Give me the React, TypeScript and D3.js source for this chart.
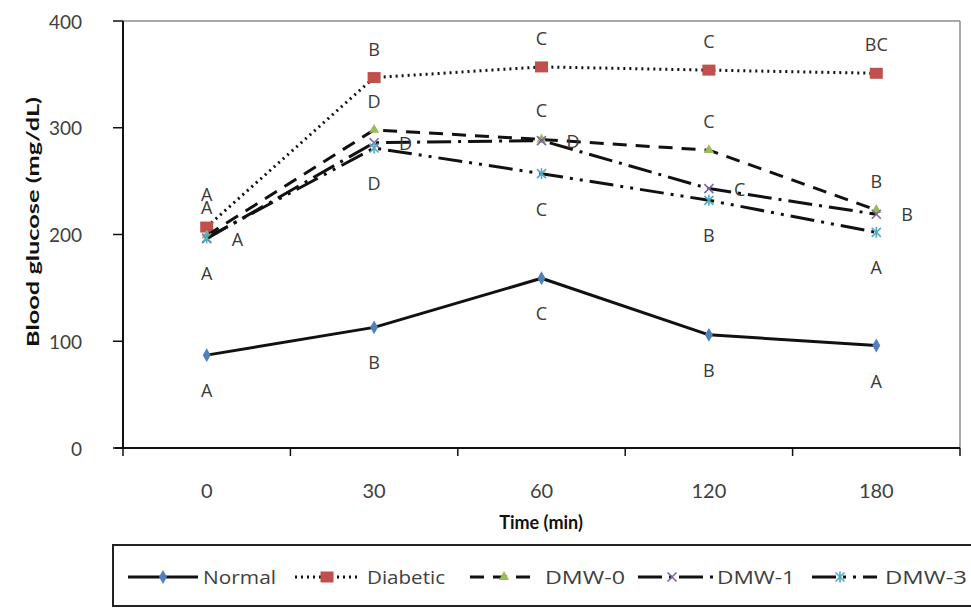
import React from "react";
import * as d3 from "d3";

// Sampling times (min)
const times = ["0", "30", "60", "120", "180"];

// Blood glucose (mg/dL) per group
const normal = [87, 113, 159, 106, 96];
const diabetic = [207, 347, 357, 354, 351];
const dmw0 = [199, 298, 289, 279, 223];
const dmw1 = [196, 286, 288, 243, 219];
const dmw3 = [197, 281, 257, 232, 202];

// Significance letters per group
const normalLetters = ["A", "B", "C", "B", "A"];
const diabeticLetters = ["A", "B", "C", "C", "BC"];
const dmw0Letters = ["A", "D", "C", "C", "B"];
const dmw1Letters = ["A", "D", "D", "C", "B"];
const dmw3Letters = ["A", "D", "C", "B", "A"];

const yTicks = [0, 100, 200, 300, 400];

type Marker = "diamond" | "square" | "triangle" | "cross" | "star";
type LabelPos = "above" | "below" | "right";

interface Series {
  name: string;
  values: number[];
  letters: string[];
  labelPos: LabelPos;
  dash: string;
  marker: Marker;
  color: string;
}

const series: Series[] = [
  { name: "Normal", values: normal, letters: normalLetters, labelPos: "below", dash: "none", marker: "diamond", color: "#4F81BD" },
  { name: "Diabetic", values: diabetic, letters: diabeticLetters, labelPos: "above", dash: "2 4", marker: "square", color: "#C0504D" },
  { name: "DMW-0", values: dmw0, letters: dmw0Letters, labelPos: "above", dash: "14 9", marker: "triangle", color: "#9BBB59" },
  { name: "DMW-1", values: dmw1, letters: dmw1Letters, labelPos: "right", dash: "24 7 3 7", marker: "cross", color: "#8064A2" },
  { name: "DMW-3", values: dmw3, letters: dmw3Letters, labelPos: "below", dash: "24 7 3 7 3 7", marker: "star", color: "#4BACC6" },
];

const W = 971;
const H = 608;
const left = 123;
const right = 960;
const top = 21;
const bottom = 448;

const x = d3.scaleBand<string>().domain(times).range([left, right]).padding(0);
const cx = (t: string) => (x(t) as number) + x.bandwidth() / 2;
const y = d3.scaleLinear().domain([0, 400]).range([bottom, top]);

const line = d3
  .line<[number, number]>()
  .x((d) => d[0])
  .y((d) => d[1]);

function MarkerShape({ kind, px, py, color }: { kind: Marker; px: number; py: number; color: string }) {
  if (kind === "diamond") {
    return <path d={d3.symbol().type(d3.symbolDiamond).size(55)() as string} transform={`translate(${px},${py})`} fill={color} />;
  }
  if (kind === "square") {
    return <rect x={px - 6.5} y={py - 5.5} width={13} height={11} fill={color} />;
  }
  if (kind === "triangle") {
    return <path d={d3.symbol().type(d3.symbolTriangle).size(45)() as string} transform={`translate(${px},${py})`} fill={color} />;
  }
  const r = 4.5;
  const xs = (
    <>
      <line x1={px - r} y1={py - r} x2={px + r} y2={py + r} stroke={color} strokeWidth={1.6} />
      <line x1={px - r} y1={py + r} x2={px + r} y2={py - r} stroke={color} strokeWidth={1.6} />
    </>
  );
  if (kind === "cross") return <g>{xs}</g>;
  return (
    <g>
      {xs}
      <line x1={px} y1={py - r - 1} x2={px} y2={py + r + 1} stroke={color} strokeWidth={1.6} />
    </g>
  );
}

const labelFont = "'Open Sans', 'DejaVu Sans', sans-serif";
const tickFont = "Lato, 'Liberation Sans', sans-serif";

// Legend entries: sample line start/end, marker x, text start, text width
const legendY = 577;
const legendLayout = [
  { x0: 128, x1: 198, mx: 163, tx: 203, tw: 73 },
  { x0: 295, x1: 360, mx: 327, tx: 367, tw: 78 },
  { x0: 470, x1: 538, mx: 504, tx: 545, tw: 80 },
  { x0: 638, x1: 713, mx: 672, tx: 717, tw: 78 },
  { x0: 812, x1: 877, mx: 840, tx: 885, tw: 82 },
];

export default function App() {
  return (
    <svg
      width={W}
      height={H}
      viewBox={`0 0 ${W} ${H}`}
      style={{ position: "absolute", left: 0, top: 0, background: "#fff" }}
    >
      <rect x={0} y={0} width={W} height={H} fill="#fff" />

      {/* plot frame (top and right) */}
      <line x1={left} y1={top} x2={right} y2={top} stroke="#8c8c8c" strokeWidth={1.5} />
      <line x1={right} y1={top} x2={right} y2={bottom} stroke="#8c8c8c" strokeWidth={1.5} />

      {/* y axis */}
      <line x1={left} y1={top} x2={left} y2={bottom} stroke="#111" strokeWidth={2} />
      {yTicks.map((t) => (
        <g key={`yt${t}`}>
          <line x1={left - 10} y1={y(t)} x2={left} y2={y(t)} stroke="#111" strokeWidth={1.5} />
          <text
            x={82}
            y={y(t)}
            textAnchor="end"
            dominantBaseline="central"
            fontFamily={tickFont}
            fontSize={19}
            fill="#404040"
          >
            {t}
          </text>
        </g>
      ))}

      {/* x axis */}
      <line x1={left - 8} y1={bottom} x2={right} y2={bottom} stroke="#111" strokeWidth={2} />
      {[...times.map((t) => x(t) as number), right].map((b, i) => (
        <line key={`xb${i}`} x1={b} y1={bottom} x2={b} y2={bottom + 8} stroke="#111" strokeWidth={1.5} />
      ))}
      {times.map((t) => (
        <text
          key={`xt${t}`}
          x={cx(t)}
          y={490}
          textAnchor="middle"
          dominantBaseline="central"
          fontFamily={tickFont}
          fontSize={20}
          fill="#404040"
        >
          {t}
        </text>
      ))}

      {/* axis titles */}
      <text
        x={541}
        y={522}
        textAnchor="middle"
        dominantBaseline="central"
        fontFamily={tickFont}
        fontWeight="bold"
        fontSize={18}
        fill="#111"
      >
        Time (min)
      </text>
      <text
        transform={`translate(32,222) rotate(-90)`}
        textAnchor="middle"
        dominantBaseline="central"
        fontFamily={tickFont}
        fontWeight="bold"
        fontSize={17}
        fill="#111"
        textLength={250}
        lengthAdjust="spacingAndGlyphs"
      >
        Blood  glucose  (mg/dL)
      </text>

      {/* series lines and markers */}
      {series.map((s) => {
        const pts = times.map((t, i) => [cx(t), y(s.values[i])] as [number, number]);
        return (
          <g key={s.name}>
            <path
              d={line(pts) as string}
              fill="none"
              stroke="#111"
              strokeWidth={3}
              strokeDasharray={s.dash === "none" ? undefined : s.dash}
              strokeLinejoin="round"
            />
            {pts.map((p, i) => (
              <MarkerShape key={i} kind={s.marker} px={p[0]} py={p[1]} color={s.color} />
            ))}
          </g>
        );
      })}

      {/* significance letters */}
      {series.map((s) =>
        times.map((t, i) => {
          const px = cx(t);
          const py = y(s.values[i]);
          let lx = px;
          let ly = py;
          let anchor: "middle" | "start" = "middle";
          if (s.labelPos === "above") ly = py - 29;
          else if (s.labelPos === "below") ly = py + 35;
          else {
            lx = px + 24;
            anchor = "start";
          }
          // the two stacked letters at time 0 sit slightly apart
          if (s.labelPos === "above" && i === 0 && s.name === "Diabetic") ly -= 4;
          return (
            <text
              key={`${s.name}-l${i}`}
              x={lx + (anchor === "start" ? 1 : 0)}
              y={ly}
              textAnchor={anchor}
              dominantBaseline="central"
              fontFamily={labelFont}
              fontSize={18}
              fill="#3a3a3a"
            >
              {s.letters[i]}
            </text>
          );
        })
      )}

      {/* legend */}
      <rect x={113} y={545} width={862} height={61} fill="none" stroke="#222" strokeWidth={2} />
      {series.map((s, i) => {
        const L = legendLayout[i];
        return (
          <g key={`lg${s.name}`}>
            <line
              x1={L.x0}
              y1={legendY}
              x2={L.x1}
              y2={legendY}
              stroke="#111"
              strokeWidth={3}
              strokeDasharray={s.dash === "none" ? undefined : s.dash}
            />
            <MarkerShape kind={s.marker} px={L.mx} py={legendY} color={s.color} />
            <text
              x={L.tx}
              y={legendY}
              dominantBaseline="central"
              fontFamily={labelFont}
              fontSize={18}
              fill="#404040"
              textLength={L.tw}
              lengthAdjust="spacingAndGlyphs"
            >
              {s.name}
            </text>
          </g>
        );
      })}
    </svg>
  );
}
